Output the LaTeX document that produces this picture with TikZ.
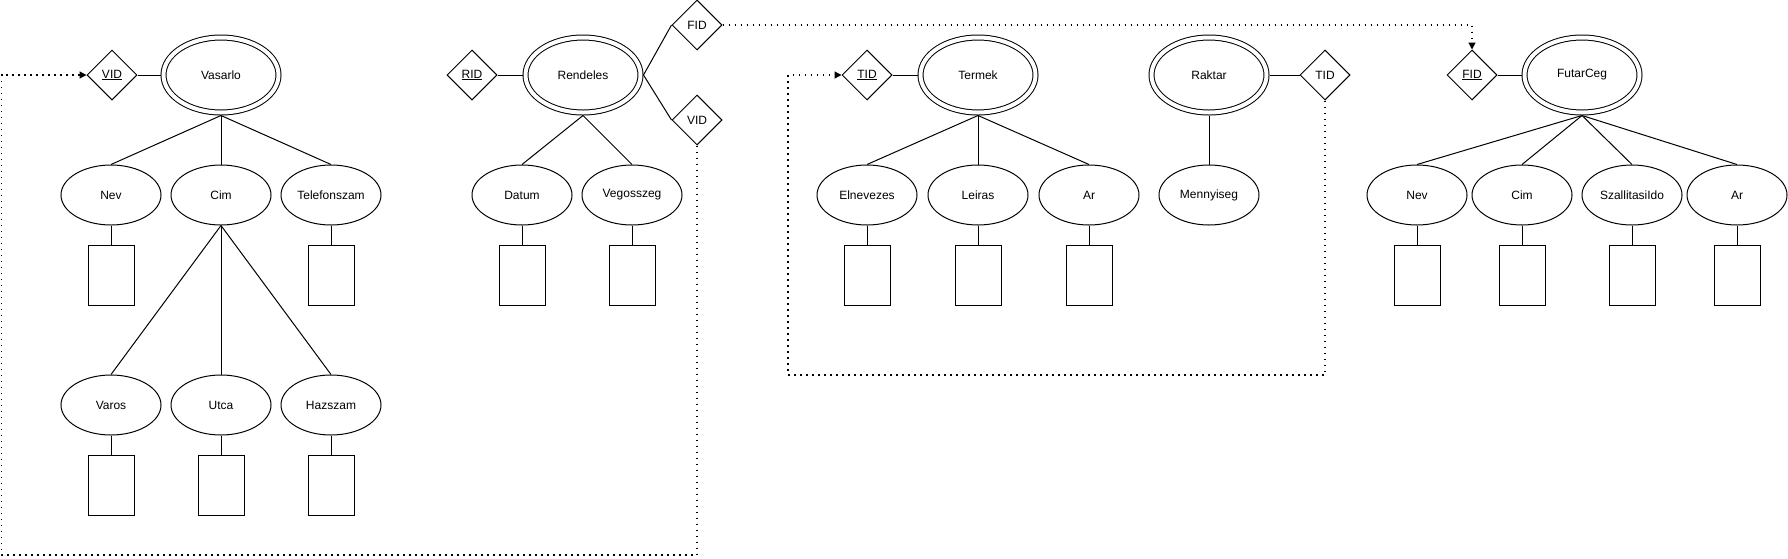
\documentclass[tikz,border=0pt]{standalone}
\usepackage{fontspec}
\setmainfont{Liberation Sans}
\usetikzlibrary{shapes.geometric,arrows.meta}
\begin{document}
\begin{tikzpicture}[x=1pt,y=-1pt,
  every node/.style={font=\fontsize{12}{14}\selectfont, inner sep=0pt},
  entity/.style={ellipse, draw, line width=1pt, double, double distance=4pt,
    minimum width=115pt, minimum height=75pt, outer sep=3pt},
  attr/.style={ellipse, draw, line width=1pt, minimum width=100pt, minimum height=60pt},
  keyd/.style={diamond, draw, line width=1pt, minimum width=50pt, minimum height=50pt},
  valbox/.style={rectangle, draw, line width=1pt, minimum width=46pt, minimum height=60pt},
  link/.style={draw, line width=1pt},
  fk/.style={draw, line width=1.3pt, dash pattern=on 1.3pt off 4.7pt, -{Triangle[length=7pt,width=7pt]}}
]
\useasboundingbox (0,0) rectangle (1788,558);

% ---------- Vasarlo ----------
\node[entity] (vas) at (221,75) {Vasarlo};
\node[keyd] (vid) at (112,75) {\underline{VID}};
\node[attr] (nev) at (111,195) {Nev};
\node[attr] (cim) at (221,195) {Cim};
\node[attr] (tel) at (331,195) {Telefonszam};
\node[valbox] (rnev) at (111,275) {};
\node[valbox] (rtel) at (331,275) {};
\node[attr] (varos) at (111,405) {Varos};
\node[attr] (utca) at (221,405) {Utca};
\node[attr] (hsz) at (331,405) {Hazszam};
\node[valbox] (rvaros) at (111,485) {};
\node[valbox] (rutca) at (221,485) {};
\node[valbox] (rhsz) at (331,485) {};
\draw[link] (vid.east) -- (vas.west);
\draw[link] (vas.south) -- (nev.north);
\draw[link] (vas.south) -- (cim.north);
\draw[link] (vas.south) -- (tel.north);
\draw[link] (nev.south) -- (rnev.north);
\draw[link] (tel.south) -- (rtel.north);
\draw[link] (cim.south) -- (varos.north);
\draw[link] (cim.south) -- (utca.north);
\draw[link] (cim.south) -- (hsz.north);
\draw[link] (varos.south) -- (rvaros.north);
\draw[link] (utca.south) -- (rutca.north);
\draw[link] (hsz.south) -- (rhsz.north);

% ---------- Rendeles ----------
\node[entity] (ren) at (583,75) {Rendeles};
\node[keyd] (rid) at (472,75) {\underline{RID}};
\node[keyd] (fidr) at (697,25) {FID};
\node[keyd] (vidr) at (697,120) {VID};
\node[attr] (dat) at (522,195) {Datum};
\node[attr] (veg) at (632,195) {Vegosszeg};
\node[valbox] (rdat) at (522,275) {};
\node[valbox] (rveg) at (632,275) {};
\draw[link] (rid.east) -- (ren.west);
\draw[link] (ren.east) -- (fidr.west);
\draw[link] (ren.east) -- (vidr.west);
\draw[link] (ren.south) -- (dat.north);
\draw[link] (ren.south) -- (veg.north);
\draw[link] (dat.south) -- (rdat.north);
\draw[link] (veg.south) -- (rveg.north);

% ---------- Termek ----------
\node[entity] (ter) at (978,75) {Termek};
\node[keyd] (tid) at (867,75) {\underline{TID}};
\node[attr] (eln) at (867,195) {Elnevezes};
\node[attr] (lei) at (978,195) {Leiras};
\node[attr] (ar) at (1089,195) {Ar};
\node[valbox] (reln) at (867,275) {};
\node[valbox] (rlei) at (978,275) {};
\node[valbox] (rar) at (1089,275) {};
\draw[link] (tid.east) -- (ter.west);
\draw[link] (ter.south) -- (eln.north);
\draw[link] (ter.south) -- (lei.north);
\draw[link] (ter.south) -- (ar.north);
\draw[link] (eln.south) -- (reln.north);
\draw[link] (lei.south) -- (rlei.north);
\draw[link] (ar.south) -- (rar.north);

% ---------- Raktar ----------
\node[entity] (rak) at (1209,75) {Raktar};
\node[keyd] (tidr) at (1325,75) {TID};
\node[attr] (men) at (1209,195) {Mennyiseg};
\draw[link] (rak.east) -- (tidr.west);
\draw[link] (rak.south) -- (men.north);

% ---------- FutarCeg ----------
\node[entity] (fut) at (1582,75) {FutarCeg};
\node[keyd] (fid) at (1472,75) {\underline{FID}};
\node[attr] (nev2) at (1417,195) {Nev};
\node[attr] (cim2) at (1522,195) {Cim};
\node[attr] (szi) at (1632,195) {SzallitasiIdo};
\node[attr] (ar2) at (1737,195) {Ar};
\node[valbox] (rnev2) at (1417,275) {};
\node[valbox] (rcim2) at (1522,275) {};
\node[valbox] (rszi) at (1632,275) {};
\node[valbox] (rar2) at (1737,275) {};
\draw[link] (fid.east) -- (fut.west);
\draw[link] (fut.south) -- (nev2.north);
\draw[link] (fut.south) -- (cim2.north);
\draw[link] (fut.south) -- (szi.north);
\draw[link] (fut.south) -- (ar2.north);
\draw[link] (nev2.south) -- (rnev2.north);
\draw[link] (cim2.south) -- (rcim2.north);
\draw[link] (szi.south) -- (rszi.north);
\draw[link] (ar2.south) -- (rar2.north);

% ---------- foreign key references ----------
\coordinate (b1) at (1.5,555);
\coordinate (b2) at (788,375);
\draw[fk] (vidr.south) |- (b1) -- (b1 |- vid.west) -- (vid.west);
\draw[fk] (tidr.south) |- (b2) -- (b2 |- tid.west) -- (tid.west);
\draw[fk] (fidr.east) -| (fid.north);
\end{tikzpicture}
\end{document}
